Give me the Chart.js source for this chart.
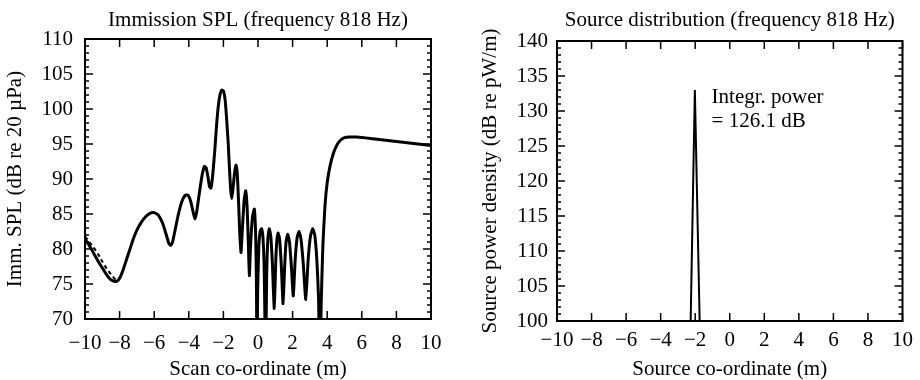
<!DOCTYPE html>
<html>
<head>
<meta charset="utf-8">
<script src="https://cdn.jsdelivr.net/npm/chart.js@4.4.1/dist/chart.umd.min.js"></script>
<style>
  html, body { margin: 0; padding: 0; background: #fff; }
  #wrap { position: relative; width: 920px; height: 380px; }
  canvas { position: absolute; top: 0; }
  #spl { left: 0; }
  #src { left: 460px; }
</style>
</head>
<body>
<div id="wrap">
  <canvas id="spl" width="460" height="380"></canvas>
  <canvas id="src" width="460" height="380"></canvas>
</div>
<script>
// immission SPL along the scan line (m, dB)
var scanX = [-10.0, -9.75, -9.5, -9.25, -9.0, -8.75, -8.5, -8.3, -8.15, -8.0, -7.8, -7.6, -7.4, -7.2, -7.0,
  -6.75, -6.5, -6.25, -6.0, -5.75, -5.5, -5.3, -5.15, -5.05, -4.95, -4.8, -4.6, -4.4, -4.2, -4.05,
  -3.9, -3.75, -3.65, -3.55, -3.4, -3.25, -3.1, -3.0, -2.9, -2.8, -2.72, -2.62, -2.5, -2.4, -2.3,
  -2.2, -2.1, -2.0, -1.9, -1.82, -1.72, -1.65, -1.58, -1.52, -1.45, -1.35, -1.27, -1.2, -1.12, -1.05,
  -0.98, -0.9, -0.8, -0.71, -0.63, -0.56, -0.5, -0.43, -0.32, -0.21, -0.13, -0.09, -0.06, -0.02, 0.05,
  0.13, 0.21, 0.29, 0.36, 0.44, 0.5, 0.57, 0.65, 0.74, 0.83, 0.94, 1.03, 1.1, 1.17, 1.25,
  1.35, 1.45, 1.55, 1.63, 1.72, 1.82, 1.93, 2.04, 2.15, 2.26, 2.37, 2.48, 2.62, 2.76, 2.9,
  3.03, 3.16, 3.28, 3.4, 3.5, 3.58, 3.65, 3.75, 3.87, 4.0, 4.16, 4.35, 4.55, 4.75, 5.0,
  5.3, 5.7, 6.5, 7.5, 8.5, 9.25, 10.0];
var splSolid = [81.4, 80.5, 79.4, 78.3, 77.3, 76.3, 75.6, 75.4, 75.4, 75.8, 77.0, 78.5, 80.0, 81.5, 82.7,
  83.8, 84.6, 85.1, 85.2, 84.8, 83.6, 82.0, 80.8, 80.5, 80.9, 82.6, 85.0, 86.8, 87.7, 87.7,
  86.9, 85.3, 84.3, 85.2, 87.8, 90.3, 91.8, 91.6, 90.4, 88.9, 88.7, 90.5, 94.0, 97.5, 100.3,
  102.0, 102.7, 102.6, 101.3, 98.8, 95.0, 91.5, 88.5, 87.2, 88.5, 91.0, 92.0, 90.8, 86.5, 82.0,
  79.5, 83.0, 87.0, 88.3, 86.0, 81.0, 76.2, 80.5, 84.6, 85.7, 81.5, 75.0, 64.0, 74.0, 80.5,
  82.6, 82.9, 81.5, 77.0, 64.0, 76.0, 81.5, 82.9, 81.8, 78.0, 71.5, 78.5, 81.5, 82.3, 81.4,
  77.5, 72.2, 78.0, 81.2, 82.1, 81.0, 77.5, 73.3, 78.5, 81.6, 82.5, 81.5, 77.8, 72.8, 78.5,
  81.8, 82.9, 82.0, 78.5, 73.0, 62.0, 72.0, 80.5, 86.1, 89.5, 91.8, 93.6, 94.8, 95.5, 95.9,
  96.0, 96.0, 95.8, 95.5, 95.2, 95.0, 94.8];
// second (dashed) curve, only where it parts from the solid one
var dashX = [-10.0, -9.75, -9.5, -9.25, -9.0, -8.75, -8.5, -8.3, -8.15, -8.0];
var splDashed = [81.8, 81.0, 80.2, 79.3, 78.2, 77.2, 76.4, 75.8, 75.6, 75.9];

// source power density (m, dB re pW/m)
var srcX = [-2.30, -2.02, -1.70];
var srcPower = [95, 133, 95];
var integrText = ['Integr. power', '= 126.1 dB'];

var FONT = '"Liberation Serif", "DejaVu Serif", serif';
Chart.defaults.font.family = FONT;
Chart.defaults.font.size = 21;
Chart.defaults.color = '#000';

function pts(xs, ys) {
  return xs.map(function(x, i) { return {x: x, y: ys[i]}; });
}

function minusLabel(v) {
  return v < 0 ? '\u2212' + Math.abs(v) : '' + v;
}

// box round the plot with inward ticks on all four sides
var frameTicks = {
  id: 'frameTicks',
  afterDatasetsDraw: function(chart) {
    var ctx = chart.ctx, a = chart.chartArea;
    var xs = chart.scales.x, ys = chart.scales.y;
    ctx.save();
    ctx.strokeStyle = '#000';
    ctx.lineWidth = 1.5;
    ctx.beginPath();
    xs.ticks.forEach(function(t) {
      var px = xs.getPixelForValue(t.value);
      ctx.moveTo(px, a.bottom); ctx.lineTo(px, a.bottom - 8);
      ctx.moveTo(px, a.top); ctx.lineTo(px, a.top + 8);
    });
    for (var v = ys.min; v <= ys.max; v++) {
      var py = ys.getPixelForValue(v);
      var len = (v % 5 === 0) ? 8 : 4;
      ctx.moveTo(a.left, py); ctx.lineTo(a.left + len, py);
      ctx.moveTo(a.right, py); ctx.lineTo(a.right - len, py);
    }
    ctx.stroke();
    ctx.lineWidth = 2;
    ctx.strokeRect(a.left, a.top, a.right - a.left, a.bottom - a.top);
    ctx.restore();
  }
};

var integrNote = {
  id: 'integrNote',
  afterDraw: function(chart) {
    var ctx = chart.ctx;
    var x = chart.scales.x.getPixelForValue(-1.05);
    var y = chart.scales.y.getPixelForValue(131.1);
    ctx.save();
    ctx.font = '21px ' + FONT;
    ctx.fillStyle = '#000';
    ctx.textAlign = 'left';
    ctx.textBaseline = 'alphabetic';
    ctx.fillText(integrText[0], x, y);
    ctx.fillText(integrText[1], x, y + 23.5);
    ctx.restore();
  }
};

function makeChart(id, cfg) {
  var area = cfg.area;
  return new Chart(document.getElementById(id), {
    type: 'line',
    data: { datasets: cfg.datasets },
    plugins: [frameTicks].concat(cfg.plugins || []),
    options: {
      responsive: false,
      animation: false,
      devicePixelRatio: 1,
      layout: { padding: { left: 0, top: 0, bottom: 0, right: 460 - area.right } },
      elements: { point: { radius: 0 } },
      plugins: {
        legend: { display: false },
        tooltip: { enabled: false },
        title: {
          display: true,
          text: cfg.title,
          fullSize: false,
          font: { size: 21, weight: 'normal' },
          padding: { top: 8, bottom: area.top - 8 - 25.2 }
        }
      },
      scales: {
        x: {
          type: 'linear',
          min: -10, max: 10,
          grid: { display: false, drawTicks: false },
          border: { display: false },
          ticks: { stepSize: 2, autoSkip: false, maxRotation: 0, minRotation: 0,
                   padding: cfg.xPad, callback: minusLabel },
          title: { display: true, text: cfg.xTitle, font: { lineHeight: 1 }, padding: 0 },
          afterFit: function(s) { s.height = 380 - area.bottom; }
        },
        y: {
          min: cfg.yMin, max: cfg.yMax,
          grid: { display: false, drawTicks: false },
          border: { display: false },
          ticks: { stepSize: 5, padding: cfg.yPad },
          title: { display: true, text: cfg.yTitle, padding: { top: cfg.yTitleOff, bottom: 0 } },
          afterFit: function(s) { s.width = area.left; }
        }
      }
    }
  });
}

makeChart('spl', {
  area: { left: 85, right: 431, top: 39, bottom: 319 },
  title: 'Immission SPL (frequency 818 Hz)',
  xTitle: 'Scan co-ordinate (m)',
  yTitle: 'Imm. SPL (dB re 20 \u00b5Pa)',
  yMin: 70, yMax: 110,
  xPad: 11.5, yPad: 12, yTitleOff: 2.5,
  datasets: [
    { data: pts(dashX, splDashed), borderColor: '#000', borderWidth: 2, borderDash: [4, 3],
      tension: 0.2, clip: 0 },
    { data: pts(scanX, splSolid), borderColor: '#000', borderWidth: 3, tension: 0.15,
      borderJoinStyle: 'round', clip: 0 }
  ]
});

makeChart('src', {
  area: { left: 97, right: 443, top: 41, bottom: 321 },
  title: 'Source distribution (frequency 818 Hz)',
  xTitle: 'Source co-ordinate (m)',
  yTitle: 'Source power density (dB re pW/m)',
  yMin: 100, yMax: 140,
  xPad: 7, yPad: 9, yTitleOff: 18,
  plugins: [integrNote],
  datasets: [
    { data: pts(srcX, srcPower), borderColor: '#000', borderWidth: 2, tension: 0, clip: 0 }
  ]
});
</script>
</body>
</html>
